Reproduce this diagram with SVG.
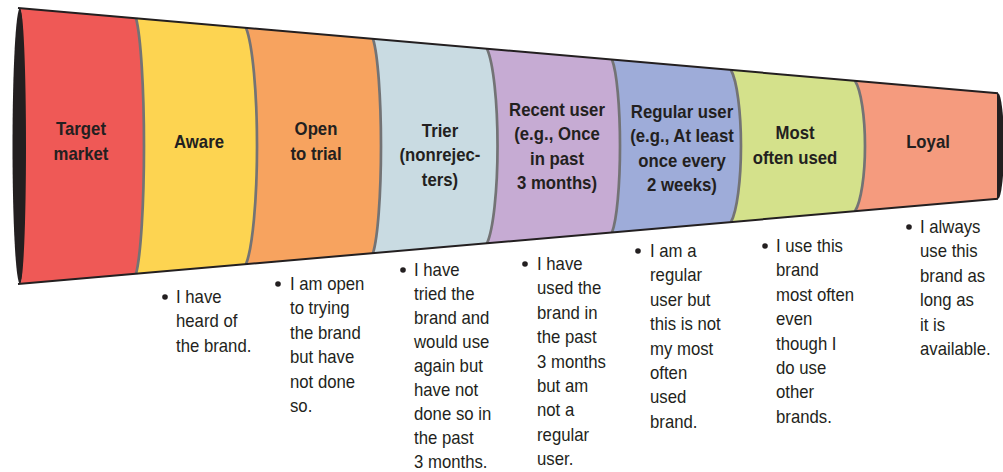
<svg xmlns="http://www.w3.org/2000/svg" width="1003" height="472" viewBox="0 0 1003 472">
<style>
  .lbl { font-family: "Liberation Sans", Arial, sans-serif; font-weight: bold; font-size: 18px; fill: #231f20; text-anchor: middle; }
  .desc { font-family: "Liberation Sans", Arial, sans-serif; font-size: 18px; fill: #231f20; }
  .bul { fill: #231f20; }
  .div { fill: none; stroke: #737375; stroke-width: 2.7; }
  .edge { fill: none; stroke: #231f20; stroke-width: 2; }
  .cap { fill: #231f20; }
</style>
<rect width="1003" height="472" fill="#ffffff"/>
<ellipse class="cap" cx="20" cy="146" rx="7.5" ry="138"/>
<ellipse class="cap" cx="998" cy="146" rx="6" ry="52.8"/>

<g id="target-market">
  <path fill="#ef5956" d="M20,8 L136,18.1 A11.6 134.6 0 0 1 136,273.9 L20,284 A6 138 0 0 0 20,8 Z"/>
  <text class="lbl" transform="translate(81,0) scale(0.93,1)"><tspan x="0" y="135">Target</tspan><tspan x="0" y="160">market</tspan></text>
</g>

<g id="aware">
  <path fill="#fdd451" d="M136,18.1 L246,27.7 A16 124.5 0 0 1 246,264.3 L136,273.9 A11.6 134.6 0 0 0 136,18.1 Z"/>
  <text class="lbl" transform="translate(199,0) scale(0.93,1)"><tspan x="0" y="148">Aware</tspan></text>
  <circle class="bul" cx="165" cy="297" r="2.8"/>
  <text class="desc" transform="translate(176,0) scale(0.93,1)"><tspan x="0" y="303">I have</tspan><tspan x="0" y="327.4">heard of</tspan><tspan x="0" y="351.8">the brand.</tspan></text>
</g>

<g id="open-to-trial">
  <path fill="#f7a35f" d="M246,27.7 L373,38.8 A11.6 112.8 0 0 1 373,253.2 L246,264.3 A16 124.5 0 0 0 246,27.7 Z"/>
  <text class="lbl" transform="translate(316,0) scale(0.93,1)"><tspan x="0" y="135">Open</tspan><tspan x="0" y="160">to trial</tspan></text>
  <circle class="bul" cx="278" cy="284" r="2.8"/>
  <text class="desc" transform="translate(290,0) scale(0.93,1)"><tspan x="0" y="290">I am open</tspan><tspan x="0" y="314.4">to trying</tspan><tspan x="0" y="338.8">the brand</tspan><tspan x="0" y="363.2">but have</tspan><tspan x="0" y="387.6">not done</tspan><tspan x="0" y="412">so.</tspan></text>
</g>

<g id="trier">
  <path fill="#c9dbe2" d="M373,38.8 L487,48.7 A15.3 102.4 0 0 1 487,243.3 L373,253.2 A11.6 112.8 0 0 0 373,38.8 Z"/>
  <text class="lbl" transform="translate(440,0) scale(0.93,1)"><tspan x="0" y="137">Trier</tspan><tspan x="0" y="161.5">(nonrejec-</tspan><tspan x="0" y="186">ters)</tspan></text>
  <circle class="bul" cx="403" cy="270" r="2.8"/>
  <text class="desc" transform="translate(414,0) scale(0.93,1)"><tspan x="0" y="276">I have</tspan><tspan x="0" y="300">tried the</tspan><tspan x="0" y="324">brand and</tspan><tspan x="0" y="348">would use</tspan><tspan x="0" y="372">again but</tspan><tspan x="0" y="396">have not</tspan><tspan x="0" y="420">done so in</tspan><tspan x="0" y="444">the past</tspan><tspan x="0" y="468">3 months.</tspan></text>
</g>

<g id="recent-user">
  <path fill="#c6abd3" d="M487,48.7 L612,59.6 A11.6 90.9 0 0 1 612,232.4 L487,243.3 A15.3 102.4 0 0 0 487,48.7 Z"/>
  <text class="lbl" transform="translate(557,0) scale(0.93,1)"><tspan x="0" y="116">Recent user</tspan><tspan x="0" y="140.5">(e.g., Once</tspan><tspan x="0" y="165">in past</tspan><tspan x="0" y="189.5">3 months)</tspan></text>
  <circle class="bul" cx="525" cy="264" r="2.8"/>
  <text class="desc" transform="translate(537,0) scale(0.93,1)"><tspan x="0" y="270">I have</tspan><tspan x="0" y="294.4">used the</tspan><tspan x="0" y="318.8">brand in</tspan><tspan x="0" y="343.2">the past</tspan><tspan x="0" y="367.6">3 months</tspan><tspan x="0" y="392">but am</tspan><tspan x="0" y="416.4">not a</tspan><tspan x="0" y="440.8">regular</tspan><tspan x="0" y="465.2">user.</tspan></text>
</g>

<g id="regular-user">
  <path fill="#9eacd9" d="M612,59.6 L731,70 A14.5 80 0 0 1 731,222 L612,232.4 A11.6 90.9 0 0 0 612,59.6 Z"/>
  <text class="lbl" transform="translate(682,0) scale(0.93,1)"><tspan x="0" y="118">Regular user</tspan><tspan x="0" y="142.5">(e.g., At least</tspan><tspan x="0" y="167">once every</tspan><tspan x="0" y="191.5">2 weeks)</tspan></text>
  <circle class="bul" cx="638" cy="251" r="2.8"/>
  <text class="desc" transform="translate(650,0) scale(0.93,1)"><tspan x="0" y="257">I am a</tspan><tspan x="0" y="281.4">regular</tspan><tspan x="0" y="305.8">user but</tspan><tspan x="0" y="330.2">this is not</tspan><tspan x="0" y="354.6">my most</tspan><tspan x="0" y="379">often</tspan><tspan x="0" y="403.4">used</tspan><tspan x="0" y="427.8">brand.</tspan></text>
</g>

<g id="most-often-used">
  <path fill="#d4e18b" d="M731,70 L855,80.8 A14.5 68.6 0 0 1 855,211.2 L731,222 A14.5 80 0 0 0 731,70 Z"/>
  <text class="lbl" transform="translate(795,0) scale(0.93,1)"><tspan x="0" y="139">Most</tspan><tspan x="0" y="164">often used</tspan></text>
  <circle class="bul" cx="765" cy="246" r="2.8"/>
  <text class="desc" transform="translate(776,0) scale(0.93,1)"><tspan x="0" y="252">I use this</tspan><tspan x="0" y="276.4">brand</tspan><tspan x="0" y="300.8">most often</tspan><tspan x="0" y="325.2">even</tspan><tspan x="0" y="349.6">though I</tspan><tspan x="0" y="374">do use</tspan><tspan x="0" y="398.4">other</tspan><tspan x="0" y="422.8">brands.</tspan></text>
</g>

<g id="loyal">
  <path fill="#f59b7e" d="M855,80.8 L997,93.2 L997,198.8 L855,211.2 A14.5 68.6 0 0 0 855,80.8 Z"/>
  <text class="lbl" transform="translate(928,0) scale(0.93,1)"><tspan x="0" y="148">Loyal</tspan></text>
  <circle class="bul" cx="909" cy="227" r="2.8"/>
  <text class="desc" transform="translate(920,0) scale(0.93,1)"><tspan x="0" y="233">I always</tspan><tspan x="0" y="257.4">use this</tspan><tspan x="0" y="281.8">brand as</tspan><tspan x="0" y="306.2">long as</tspan><tspan x="0" y="330.6">it is</tspan><tspan x="0" y="355">available.</tspan></text>
</g>

<g id="connectors">
  <path class="div" d="M136,18.1 A11.6 134.6 0 0 1 136,273.9"/>
  <path class="div" d="M246,27.7 A16 124.5 0 0 1 246,264.3"/>
  <path class="div" d="M373,38.8 A11.6 112.8 0 0 1 373,253.2"/>
  <path class="div" d="M487,48.7 A15.3 102.4 0 0 1 487,243.3"/>
  <path class="div" d="M612,59.6 A11.6 90.9 0 0 1 612,232.4"/>
  <path class="div" d="M731,70 A14.5 80 0 0 1 731,222"/>
  <path class="div" d="M855,80.8 A14.5 68.6 0 0 1 855,211.2"/>
  <path class="edge" d="M18,8 L998,93.2"/>
  <path class="edge" d="M18,284 L998,198.8"/>
</g>
</svg>
